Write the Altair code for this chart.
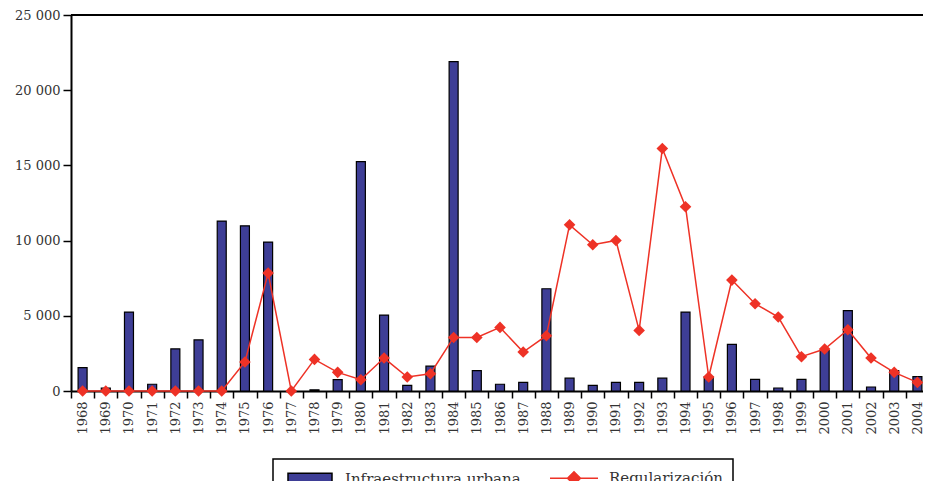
import altair as alt
import pandas as pd

years = [str(y) for y in range(1968, 2005)]

infraestructura = [1550, 200, 5250, 450, 2800, 3400, 11300, 10980, 9900, 0,
                   80, 750, 15250, 5050, 380, 1650, 21900, 1350, 450, 570,
                   6800, 850, 380, 570, 570, 850, 5250, 930, 3100, 770,
                   200, 770, 2700, 5340, 265, 1350, 950]

regularizacion = [0, 0, 0, 0, 0, 0, 0, 1930, 7840, 0,
                  2100, 1240, 750, 2190, 930, 1150, 3560, 3560, 4230, 2590,
                  3675, 11050, 9720, 10010, 4030, 16120, 12250, 930, 7375, 5800,
                  4920, 2280, 2790, 4075, 2190, 1240, 570]

series = ["Infraestructura urbana", "Regularización"]
y_ticks = [0, 5000, 10000, 15000, 20000, 25000]

NAVY = "#3E3E96"
RED = "#EE3226"
FONT = "DejaVu Serif"
TEXT = "#333333"

df = pd.DataFrame({"year": years, "infra": infraestructura, "regul": regularizacion})
legend_df = pd.DataFrame({"serie": series})

x_enc = alt.X(
    "year:O",
    sort=years,
    scale=alt.Scale(paddingInner=0, paddingOuter=0),
    axis=alt.Axis(
        title=None, labelAngle=-90, labelFont=FONT, labelFontSize=13, labelColor=TEXT,
        tickBand="extent", tickSize=7, tickColor="black", tickWidth=1.5,
        domainColor="black", domainWidth=2, labelPadding=3,
    ),
)
y_scale = alt.Scale(domain=[0, 25000], nice=False)
y_axis = alt.Axis(
    title=None, values=y_ticks, grid=False,
    labelExpr="replace(format(datum.value, ','), ',', ' ')",
    labelFont=FONT, labelFontSize=13, labelColor=TEXT, labelPadding=3,
    tickSize=8, tickColor="black", tickWidth=1.5,
    domainColor="black", domainWidth=2,
)

bars = alt.Chart(df).mark_bar(
    fill=NAVY, stroke="black", strokeWidth=1.2, size=9
).encode(
    x=x_enc,
    y=alt.Y("infra:Q", scale=y_scale, axis=y_axis),
)

line = alt.Chart(df).mark_line(color=RED, strokeWidth=1.5).encode(
    x=alt.X("year:O", sort=years),
    y=alt.Y("regul:Q", scale=y_scale),
)

points = alt.Chart(df).mark_point(
    shape="diamond", filled=True, fill=RED, strokeWidth=0, size=135, opacity=1
).encode(
    x=alt.X("year:O", sort=years),
    y=alt.Y("regul:Q", scale=y_scale),
)

top_rule = alt.Chart(df).mark_rule(color="black", strokeWidth=2).encode(
    y=alt.YDatum(25000)
)

legend_props = dict(
    title=None, orient="none", legendX=202, legendY=444, direction="horizontal",
    padding=10, symbolSize=256, labelLimit=400,
    symbolStrokeWidth=1.5, labelFont=FONT, labelFontSize=15, labelColor=TEXT,
    labelOffset=44, columnPadding=26, fillColor="white",
)

# symbol paths in legend units (8 px per unit, centre 9 px from entry start)
rect_path = "M-0.5,-0.6875H5V0.6875H-0.5Z"
line_path = "M-0.75,0H5.25M1.4375,0L2.25,-0.8125L3.0625,0L2.25,0.8125Z"

legend_layer = alt.Chart(legend_df).transform_filter("false").mark_point(
    filled=True, opacity=1
).encode(
    fill=alt.Fill("serie:N", scale=alt.Scale(domain=series, range=[NAVY, RED]),
                  legend=alt.Legend(**legend_props)),
    stroke=alt.Stroke("serie:N", scale=alt.Scale(domain=series, range=["black", RED]),
                      legend=alt.Legend(**legend_props)),
    shape=alt.Shape("serie:N", scale=alt.Scale(domain=series, range=[rect_path, line_path]),
                    legend=alt.Legend(**legend_props)),
)

chart = alt.layer(bars, line, points, top_rule, legend_layer).properties(
    width=858, height=376,
    autosize=alt.AutoSizeParams(type="none"),
    padding={"left": 63, "top": 7, "right": -6, "bottom": 90},
).configure_view(stroke=None).configure(background="white").configure_legend(
    strokeColor="black", strokeWidth=1.5
)

chart.save("out.html", embed_options={"renderer": "svg", "actions": False})
